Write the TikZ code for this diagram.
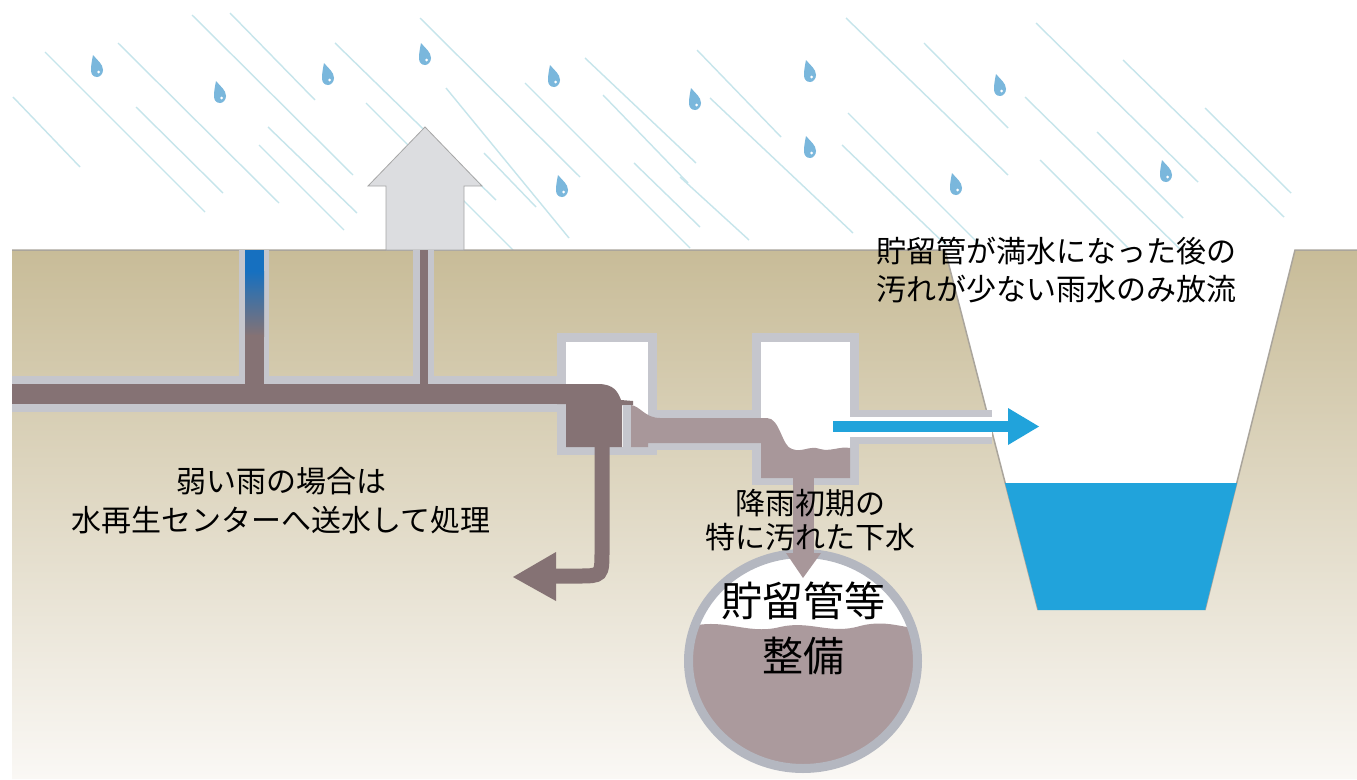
\documentclass[tikz,border=0pt]{standalone}
\usepackage{fontspec}
\newfontfamily\jpfont{Noto Sans CJK JP}

% colours of soil, pipes and water
\definecolor{soiltop}{RGB}{200,188,152}
\definecolor{soilmid}{RGB}{224,215,194}
\definecolor{soilbot}{RGB}{250,248,245}
\definecolor{soiledge}{RGB}{170,165,156}
\definecolor{wallgray}{RGB}{197,198,205}
\definecolor{ringgray}{RGB}{180,183,192}
\definecolor{sewage}{RGB}{133,114,116}
\definecolor{sewagelight}{RGB}{168,151,154}
\definecolor{tankfill}{RGB}{171,154,157}
\definecolor{pipeblue}{RGB}{22,112,192}
\definecolor{riverblue}{RGB}{33,163,219}
\definecolor{raincol}{RGB}{198,229,235}
\definecolor{dropcol}{RGB}{122,183,220}
\definecolor{arrowgray}{RGB}{220,221,224}

% one rain drop, centred at (#1,#2)
\newcommand{\raindrop}[2]{%
  \begin{scope}[shift={(#1,#2)}]
    \fill[dropcol] (-4,-12) .. controls (0,-7) and (6,-3) .. (6,3)
      .. controls (6,7) and (3,10) .. (0,10)
      .. controls (-4,10) and (-6,7) .. (-6,3)
      .. controls (-6,-2) and (-5,-7) .. (-4,-12) -- cycle;
    \fill[white] (1.5,5) circle[radius=1.5pt];
  \end{scope}}

\begin{document}
\begin{tikzpicture}[x=1pt, y=-1pt,
    rain/.style={raincol, line width=1.4pt},
    label/.style={font=\jpfont\fontsize{30}{39}\selectfont, align=center, inner sep=0pt},
    edge/.style={soiledge, line width=1.5pt}]
    \useasboundingbox (0,0) rectangle (1357,779);
    \fill[white] (0,0) rectangle (1357,779);

    % Rain
    \foreach \xa/\ya/\xb/\yb in {45/52/205/212, 13/97/80/167, 118/43/279/203,
        136/107/223/193, 192/15/353/175, 230/13/315/100, 268/127/357/213,
        259/145/344/230, 335/43/496/200, 366/103/513/250, 420/18/580/177,
        446/88/569/238, 484/153/536/207, 525/83/690/248, 585/58/696/163,
        603/95/688/183, 634/163/700/227, 697/50/781/137, 710/98/853/233,
        680/177/749/240, 846/18/1008/175, 924/43/1008/128, 848/113/982/247,
        842/145/948/247, 1025/97/1181/250, 1036/23/1198/182, 1097/132/1183/218,
        1040/160/1130/250, 1123/60/1284/217, 1205/108/1291/193}
        \draw[rain] (\xa,\ya) -- (\xb,\yb);
    \foreach \px/\py in {97/67, 220/93, 328/75, 425/55, 554/77, 562/187,
        695/100, 810/72, 810/148, 956/185, 1000/86, 1166/172}
        {\raindrop{\px}{\py}}

    % Soil with the river cut into it
    \shade[top color=soiltop, middle color=soilmid, bottom color=soilbot]
        (12,250) -- (945,250) -- (1038,610) -- (1205,610) -- (1295,250)
        -- (1357,250) -- (1357,779) -- (12,779) -- cycle;
    \draw[edge] (12,250) -- (945,250) -- (1038,610);
    \draw[edge] (1205,610) -- (1295,250) -- (1357,250);
    \fill[riverblue] (1005,483) -- (1237,483) -- (1205,610) -- (1038,610) -- cycle;

    % Evaporation arrow
    \filldraw[fill=arrowgray, draw=gray!70, line width=0.8pt]
        (386,250) -- (386,186) -- (368,186) -- (425,127) -- (482,186)
        -- (464,186) -- (464,250) -- cycle;

    % Pipe casings and chamber walls
    \fill[wallgray] (12,376) rectangle (557,412);
    \fill[wallgray] (239,250) rectangle (269,380);
    \fill[wallgray] (413,250) rectangle (434,380);
    \fill[wallgray] (557,333) rectangle (657,455);
    \fill[wallgray] (648,410) rectangle (761,450);
    \fill[wallgray] (752,333) rectangle (859,485);
    \fill[wallgray] (850,410) rectangle (992,444);

    % Empty space inside
    \fill[white] (566,342) rectangle (648,447);
    \fill[white] (761,342) rectangle (850,478);
    \fill[white] (850,417) rectangle (992,437);

    % Sewer flow
    \fill[sewage] (12,384) rectangle (566,404);
    \fill[pipeblue] (245,250) rectangle (264,272);
    \shade[top color=pipeblue, bottom color=sewage] (245,271) rectangle (264,336);
    \fill[sewage] (245,335) rectangle (264,386);
    \fill[sewage] (420,250) rectangle (428,386);
    \fill[sewage] (557,384) -- (598,384) .. controls (614,384) and (618,392) .. (621,400)
        -- (633,401) -- (633,405) -- (622,405) -- (622,447) -- (566,447)
        -- (566,404) -- (557,404) -- cycle;
    \fill[wallgray] (623,405) rectangle (631,447);
    \fill[sewagelight] (631,405) .. controls (640,406) and (645,418) .. (660,418)
        -- (767,418) .. controls (780,418) and (782,447) .. (792,449)
        .. controls (802,453) and (810,445) .. (820,449)
        .. controls (830,452) and (840,446) .. (850,448)
        -- (850,478) -- (761,478) -- (761,443) -- (648,443) -- (648,447)
        -- (631,447) -- cycle;

    % Flow to the treatment centre
    \draw[sewage, line width=15pt] (602,445) -- (602,550)
        .. controls (602,576) .. (578,576) -- (554,576);
    \fill[sewage] (556,552) -- (513,577) -- (556,601) -- cycle;

    % Storage pipe
    \begin{scope}
        \clip (803,661) ellipse [x radius=114, y radius=107];
        \fill[white] (680,540) rectangle (930,780);
        \fill[tankfill] (680,630) .. controls (720,614) and (745,636) .. (780,627)
            .. controls (810,620) and (830,635) .. (860,626)
            .. controls (890,618) and (910,632) .. (930,628)
            -- (930,780) -- (680,780) -- cycle;
    \end{scope}
    \draw[ringgray, line width=9pt] (803,661) ellipse [x radius=114.5, y radius=107.5];

    % First flush down into the storage pipe
    \fill[sewagelight] (793,478) rectangle (814,555);
    \fill[sewagelight] (786,553) -- (821,553) -- (803,578) -- cycle;

    % Overflow to the river
    \fill[riverblue] (833,421) rectangle (1009,432);
    \fill[riverblue] (1008,408) -- (1039,426.5) -- (1008,445) -- cycle;

    % Labels
    \node[label] (weak) at (281,501) {弱い雨の場合は\\水再生センターへ送水して処理};
    \node[label, font=\jpfont\fontsize{30}{34}\selectfont] (firstflush) at (810,520)
        {降雨初期の\\特に汚れた下水};
    \node[label, font=\jpfont\fontsize{41}{55}\selectfont] (tank) at (803,628)
        {貯留管等\\整備};
    \node[label, font=\jpfont\fontsize{30}{38}\selectfont] (overflow) at (1056,270)
        {貯留管が満水になった後の\\汚れが少ない雨水のみ放流};
\end{tikzpicture}
\end{document}
